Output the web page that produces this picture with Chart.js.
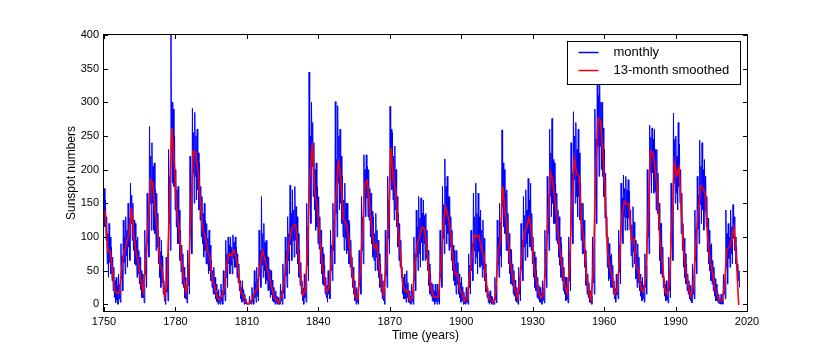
<!DOCTYPE html>
<html>
<head>
<meta charset="utf-8">
<script src="https://cdn.jsdelivr.net/npm/chart.js@4.4.1/dist/chart.umd.min.js"></script>
<style>
html,body{margin:0;padding:0;background:#fff;}
canvas{display:block;}
</style>
</head>
<body>
<canvas id="c" width="830" height="346"></canvas>
<script>
// ---- data ----
const firstYear = 1750;

// 13-month smoothed sunspot number, one value per year (1750 ... 2016)
const smoothed = [
  139.0,79.5,79.7,51.2,20.3,16.0,17.0,54.0,79.3,90.0,
  104.8,143.2,102.0,75.2,60.7,34.8,19.0,63.0,116.3,185.0,
  180.0,136.0,110.8,58.0,51.0,11.7,33.0,154.2,262.0,209.8,
  141.3,113.5,64.2,38.0,17.0,40.2,138.2,228.0,226.0,196.8,
  149.8,111.0,100.0,78.2,68.3,35.5,26.7,10.7,6.8,11.3,
  24.2,56.7,75.0,71.8,80.0,70.3,46.8,16.8,13.5,4.2,
  0.0,2.3,8.3,20.3,23.2,59.0,79.0,68.3,52.9,38.5,
  24.2,9.2,6.3,2.2,11.4,28.2,59.9,83.0,108.5,117.0,
  118.0,80.8,44.3,13.4,19.5,85.8,192.7,240.0,168.7,143.0,
  105.5,63.3,40.3,18.1,25.1,65.8,102.7,166.3,215.0,182.5,
  126.3,122.0,102.7,74.1,39.0,12.7,8.2,43.4,104.4,178.3,
  184.0,146.6,112.1,83.5,89.2,57.8,30.7,13.9,62.8,123.6,
  232.0,185.3,169.2,110.1,74.5,28.3,18.9,20.7,5.7,10.0,
  53.7,90.5,99.0,115.0,112.0,86.3,42.4,21.8,11.2,10.4,
  11.8,59.5,121.7,145.0,130.0,106.6,69.4,43.8,44.4,20.2,
  15.7,4.6,8.5,40.8,70.1,103.0,100.0,102.0,80.9,73.2,
  30.9,9.5,6.0,2.4,16.1,79.0,95.0,175.0,134.6,105.7,
  62.7,43.5,23.7,9.7,27.9,74.0,106.5,114.7,129.7,108.2,
  59.4,35.1,18.6,9.2,14.6,60.2,132.8,195.0,182.6,148.0,
  113.0,79.2,50.8,27.1,16.1,55.3,154.3,216.0,193.0,190.7,
  118.9,98.3,45.0,20.1,6.6,54.2,200.7,276.0,272.0,225.1,
  159.0,76.4,53.4,39.9,15.0,22.0,66.8,132.9,153.0,149.4,
  148.0,94.4,97.6,54.1,49.2,22.5,18.4,39.3,131.0,228.0,
  226.0,198.9,162.4,91.0,60.5,20.6,14.8,33.9,123.0,210.0,
  191.8,203.3,133.0,76.1,44.9,25.1,11.6,28.9,88.3,136.3,
  176.0,172.0,163.6,99.3,65.3,45.8,24.7,12.6,4.2,4.8,
  24.9,80.8,84.5,94.0,114.0,69.8,-1
];

// monthly sunspot number, four readings per year (1750 ... 2016):
// highest month, a typical low month, a typical high month, lowest month
const monthlyHigh = [
  172,130,120,85,55,40,45,90,125,130,
  150,180,150,120,100,70,45,110,165,264,
  240,210,165,100,95,35,70,230,401,290,
  200,175,110,75,40,80,220,291,285,260,
  210,160,150,120,110,65,55,30,22,30,
  50,95,100,100,103,100,75,35,35,15,
  2,12,25,50,55,110,160,120,95,70,
  50,25,20,10,30,60,100,130,177,170,
  175,130,80,35,45,150,345,300,240,210,
  160,110,75,40,50,110,150,301,295,260,
  190,180,150,120,70,35,25,80,160,222,
  222,200,165,130,135,95,60,35,110,190,
  294,255,235,160,120,55,45,50,20,30,
  100,140,160,158,155,135,80,45,30,30,
  30,110,175,216,190,160,110,80,80,45,
  40,18,25,75,110,165,180,165,140,125,
  60,25,20,10,40,125,150,259,200,170,
  105,80,50,25,55,120,160,170,187,180,
  100,70,40,25,35,110,190,260,276,210,
  165,130,90,55,40,100,240,286,270,260,
  180,150,80,45,20,100,290,359,330,300,
  230,130,90,75,35,45,110,180,192,190,
  185,140,145,95,90,45,40,75,200,266,
  262,260,230,150,120,40,35,70,180,284,
  250,270,200,120,75,45,28,60,140,190,
  244,240,215,160,110,90,55,30,15,15,
  45,140,120,140,148,100,60
];
const monthlyLower = [
  115,60,62,35,10,6,8,38,62,72,
  85,120,80,58,45,22,10,45,92,150,
  150,105,85,40,32,5,18,120,225,175,
  115,90,48,25,8,28,105,195,190,170,
  125,90,80,60,50,25,15,4,2,5,
  14,40,60,58,68,55,32,8,5,1,
  0,1,3,10,12,42,58,50,35,22,
  14,3,2,0,5,16,42,65,88,95,
  95,60,28,5,10,58,160,205,140,115,
  82,45,28,10,15,50,80,135,180,150,
  100,98,80,55,25,5,3,28,80,155,
  158,125,90,65,70,40,18,5,42,98,
  205,155,140,85,55,15,8,10,2,4,
  35,70,75,92,90,68,28,12,4,4,
  4,40,98,118,105,85,50,28,30,10,
  6,1,3,25,50,80,70,78,58,52,
  18,3,2,0,7,58,72,145,105,80,
  45,28,12,3,15,52,85,90,105,80,
  40,20,8,3,6,40,105,160,150,120,
  90,58,35,15,7,35,120,185,160,160,
  95,75,28,10,2,32,160,235,235,190,
  128,55,38,25,8,14,48,110,130,128,
  128,72,78,38,32,12,8,25,100,198,
  195,168,135,65,40,12,6,20,92,180,
  165,175,105,55,30,15,5,15,65,112,
  148,140,138,78,50,30,12,5,1,1,
  15,55,68,75,98,60,35
];
const monthlyUpper = [
  155,105,100,70,35,28,30,72,100,110,
  128,162,125,95,80,50,32,85,140,220,
  205,170,135,78,72,22,50,190,300,250,
  170,140,88,55,28,60,175,255,250,225,
  175,135,125,98,88,50,40,18,12,20,
  36,75,88,85,92,85,60,25,22,8,
  1,6,15,32,38,80,105,92,72,52,
  36,16,12,5,20,42,80,105,135,140,
  145,105,62,24,32,115,250,270,200,175,
  130,85,58,28,38,88,125,215,250,220,
  155,150,125,95,55,22,15,62,130,200,
  205,172,138,105,110,75,45,24,85,155,
  260,220,200,135,95,40,30,32,12,20,
  75,115,128,135,132,110,60,32,20,18,
  20,82,148,175,160,130,88,60,62,32,
  26,10,15,58,90,130,135,130,110,98,
  45,16,12,5,28,100,122,210,165,135,
  82,60,36,16,40,95,132,140,155,135,
  78,50,28,16,24,82,160,225,215,178,
  140,100,70,40,28,78,195,250,230,225,
  150,125,62,32,12,78,245,310,300,262,
  195,100,72,58,24,34,88,158,172,170,
  168,118,122,75,70,34,28,58,165,248,
  245,230,195,120,85,30,24,50,150,245,
  220,238,165,98,60,35,18,42,112,162,
  205,200,190,128,88,65,38,20,8,8,
  35,105,100,115,130,85,50
];
const monthlyLow = [
  95,40,45,20,2,0,3,20,45,55,
  65,95,60,40,30,10,2,25,70,110,
  110,80,60,25,15,0,5,80,180,140,
  90,65,30,10,2,15,75,150,155,140,
  100,70,60,45,35,15,8,0,0,0,
  5,25,45,45,55,40,20,3,0,0,
  0,0,0,3,5,25,40,30,20,10,
  5,0,0,0,0,8,25,45,65,70,
  75,40,15,0,3,35,120,160,110,90,
  60,30,15,3,8,35,60,100,140,120,
  80,75,60,40,15,0,0,15,60,130,
  130,100,70,50,50,25,8,0,25,75,
  170,125,115,65,40,8,3,3,0,0,
  20,50,55,65,65,50,15,5,0,0,
  0,25,75,90,80,65,35,15,15,3,
  0,0,0,15,35,60,45,55,40,35,
  10,0,0,0,2,40,55,115,80,60,
  30,15,5,0,5,35,65,70,85,60,
  25,10,3,0,2,25,80,130,120,95,
  70,40,20,5,2,20,90,150,130,125,
  75,55,15,3,0,15,120,190,200,160,
  100,35,25,15,3,8,30,90,110,110,
  110,55,60,25,20,5,3,15,75,165,
  165,140,110,45,25,5,2,10,65,150,
  140,150,80,40,20,8,2,8,45,90,
  120,110,115,60,35,20,5,2,0,0,
  8,30,55,60,80,50,25
];

const xTicks = [1750,1780,1810,1840,1870,1900,1930,1960,1990,2020];
const yTicks = [0,50,100,150,200,250,300,350,400];
const seriesLabels = ['monthly','13-month smoothed'];
const xTitle = 'Time (years)';
const yTitle = 'Sunspot numbers';

// ---- build the library's point tables ----
const monthlyPoints = [];
for (let i = 0; i < monthlyHigh.length; i++) {
  const yr = firstYear + i;
  monthlyPoints.push({x: yr + 0.125, y: monthlyHigh[i]});
  monthlyPoints.push({x: yr + 0.375, y: monthlyLower[i]});
  monthlyPoints.push({x: yr + 0.625, y: monthlyUpper[i]});
  monthlyPoints.push({x: yr + 0.875, y: monthlyLow[i]});
}
const smoothedPoints = smoothed.map((v, i) => ({x: firstYear + i + 0.5, y: v}));

const FONT = "'Liberation Sans', Arial, Helvetica, sans-serif";
Chart.defaults.font.family = FONT;
Chart.defaults.color = '#000';

// inward ticks on all four sides + frame
const framePlugin = {
  id: 'frame',
  afterDatasetsDraw(chart) {
    const {ctx, chartArea: a, scales: {x, y}} = chart;
    const L = 4;
    ctx.save();
    ctx.strokeStyle = '#000';
    ctx.lineWidth = 1;
    ctx.beginPath();
    xTicks.forEach(v => {
      const p = Math.round(x.getPixelForValue(v)) + 0.5;
      ctx.moveTo(p, a.bottom); ctx.lineTo(p, a.bottom - L);
      ctx.moveTo(p, a.top); ctx.lineTo(p, a.top + L);
    });
    yTicks.forEach(v => {
      const p = Math.round(y.getPixelForValue(v)) + 0.5;
      ctx.moveTo(a.left, p); ctx.lineTo(a.left + L, p);
      ctx.moveTo(a.right, p); ctx.lineTo(a.right - L, p);
    });
    ctx.stroke();
    ctx.strokeRect(a.left - 0.5, a.top - 0.5, a.right - a.left + 1, a.bottom - a.top + 1);
    ctx.restore();
  }
};

// matplotlib-like legend box in the upper right corner
const legendPlugin = {
  id: 'boxLegend',
  afterDraw(chart) {
    const {ctx, chartArea: a} = chart;
    const ds = chart.data.datasets;
    const boxW = 173, boxH = 43;
    const bx = a.right - 6.5 - boxW, by = a.top + 6.5;
    ctx.save();
    ctx.fillStyle = '#fff';
    ctx.fillRect(bx, by, boxW, boxH);
    ctx.strokeStyle = '#000';
    ctx.lineWidth = 1;
    ctx.strokeRect(bx, by, boxW, boxH);
    ctx.font = '13px ' + FONT;
    ctx.textBaseline = 'middle';
    ctx.textAlign = 'left';
    ds.forEach((d, i) => {
      const cy = by + 11 + i * 18;
      ctx.strokeStyle = d.borderColor;
      ctx.lineWidth = 1.5;
      ctx.beginPath();
      ctx.moveTo(bx + 11, cy); ctx.lineTo(bx + 31, cy);
      ctx.stroke();
      ctx.fillStyle = '#000';
      ctx.fillText(d.label, bx + 46, cy);
    });
    ctx.restore();
  }
};

new Chart(document.getElementById('c'), {
  type: 'line',
  data: {
    datasets: [
      {label: seriesLabels[0], data: monthlyPoints, borderColor: '#0000ff', borderWidth: 1,
       pointRadius: 0, tension: 0, order: 2, clip: 0},
      {label: seriesLabels[1], data: smoothedPoints, borderColor: '#ff0000', borderWidth: 1.6,
       pointRadius: 0, tension: 0, order: 1, clip: 0}
    ]
  },
  options: {
    responsive: false,
    animation: false,
    devicePixelRatio: 1,
    parsing: false,
    normalized: true,
    layout: {padding: {left: 0, right: 83, top: 35, bottom: 0}},
    plugins: {legend: {display: false}, tooltip: {enabled: false}},
    scales: {
      x: {
        type: 'linear', min: 1750, max: 2020,
        afterBuildTicks: s => { s.ticks = xTicks.map(v => ({value: v})); },
        afterFit: s => { s.height = 35; },
        grid: {display: false, drawTicks: false},
        border: {display: false},
        ticks: {font: {size: 11}, color: '#000', padding: 4, maxRotation: 0, autoSkip: false,
                callback: v => String(v)},
        title: {display: true, text: xTitle, font: {size: 12}, color: '#000',
                padding: {top: 0, bottom: 3}}
      },
      y: {
        type: 'linear', min: -10, max: 400,
        afterBuildTicks: s => { s.ticks = yTicks.map(v => ({value: v})); },
        afterFit: s => { s.width = 104; },
        grid: {display: false, drawTicks: false},
        border: {display: false},
        ticks: {font: {size: 11}, color: '#000', padding: 5, callback: v => String(v)},
        title: {display: true, text: yTitle, font: {size: 12}, color: '#000',
                padding: {top: 64, bottom: 0}}
      }
    }
  },
  plugins: [framePlugin, legendPlugin]
});
</script>
</body>
</html>
